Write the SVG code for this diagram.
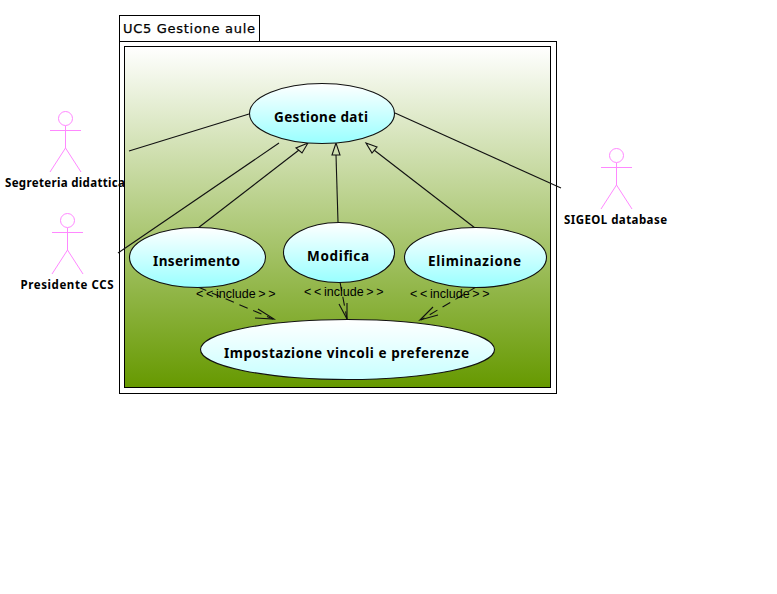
<svg xmlns="http://www.w3.org/2000/svg" width="777" height="594" viewBox="0 0 777 594">
<style>
text{font-family:"Noto Sans","DejaVu Sans",sans-serif;fill:#000}
.title{font-family:"DejaVu Sans",sans-serif;font-size:13px;stroke:#000;stroke-width:.25px}
.uc{stroke:#111;stroke-width:1.100;fill:url(#ucfill)}
.ucl{font-size:13.500px;font-weight:700}
.act{font-size:11.500px;font-weight:700}
.inc{font-size:12.500px;font-family:"Liberation Sans",sans-serif}
.stick{stroke:#ff88ff;stroke-width:1;fill:none}
.c{stroke:#111;stroke-width:1.100;fill:none}
.d{stroke:#111;stroke-width:1.100;fill:none;stroke-dasharray:9 6}
</style>
<defs>
<linearGradient id="bg" x1="0" y1="0" x2="0" y2="1"><stop offset="0" stop-color="#fff"/><stop offset="1" stop-color="#669900"/></linearGradient>
<linearGradient id="ucfill" x1="0" y1="0" x2="0" y2="1"><stop offset="0" stop-color="#fff"/><stop offset="1" stop-color="#99ffff"/></linearGradient>
<linearGradient id="ucfill2" x1="0" y1="0" x2="0" y2="1"><stop offset="0" stop-color="#fff"/><stop offset="1" stop-color="#c8ffff"/></linearGradient>
</defs>
<rect width="777" height="594" fill="#fff"/>
<g id="frame">
<rect x="119.500" y="15.500" width="140" height="26" fill="#fff" stroke="#000"/>
<rect x="119.500" y="41.500" width="437" height="352" fill="#fff" stroke="#000"/>
<rect x="124.500" y="46.500" width="426" height="341" fill="url(#bg)" stroke="#000"/>
<text class="title" x="123" y="33" textLength="132">UC5 Gestione aule</text>
</g>
<g id="connectors">
<path class="c" d="M249 114L129 151"/>
<path class="c" d="M279 143L118 253"/>
<path class="c" d="M395 113L561 188"/>
<path class="c" d="M198 228L299 150"/>
<path class="c" d="M338 222L336 155"/>
<path class="c" d="M475 228L374 150"/>
<path class="c" d="M308 143L296 148L302 153Z"/>
<path class="c" d="M336 143L332 155L340 155Z"/>
<path class="c" d="M366 143L377 147L372 153Z"/>
<path class="d" d="M198 287L273 319"/>
<path class="c" d="M258 309L274 319L255 318"/>
<path class="d" d="M340 282L347 319"/>
<path class="c" d="M339 304L347 319L347 303"/>
<path class="d" d="M476 287L421 320"/>
<path class="c" d="M433 307L420 320L438 315"/>
<text class="inc" x="196" y="298" dx="0 2.700 2.700 0 0 0 0 0 0 2.700 2.700">&lt;&lt;include&gt;&gt;</text>
<text class="inc" x="304" y="296" dx="0 2.700 2.700 0 0 0 0 0 0 2.700 2.700">&lt;&lt;include&gt;&gt;</text>
<text class="inc" x="410" y="298" dx="0 2.700 2.700 0 0 0 0 0 0 2.700 2.700">&lt;&lt;include&gt;&gt;</text>
</g>
<g id="uc-gestione"><ellipse class="uc" cx="322" cy="113.500" rx="72.500" ry="30"/><text class="ucl" x="274" y="122" textLength="94">Gestione dati</text></g>
<g id="uc-inserimento"><ellipse class="uc" cx="197.500" cy="257.500" rx="68" ry="30"/><text class="ucl" x="153" y="266" textLength="87">Inserimento</text></g>
<g id="uc-modifica"><ellipse class="uc" cx="339" cy="252.500" rx="55.500" ry="30"/><text class="ucl" x="307" y="261" textLength="62">Modifica</text></g>
<g id="uc-eliminazione"><ellipse class="uc" cx="475.500" cy="257.500" rx="71" ry="30"/><text class="ucl" x="428" y="266" textLength="93">Eliminazione</text></g>
<g id="uc-impostazione"><ellipse cx="347.500" cy="349.500" rx="147" ry="30" stroke="#111" stroke-width="1.100" fill="url(#ucfill2)"/><text class="ucl" x="224" y="358" textLength="245">Impostazione vincoli e preferenze</text></g>
<g id="actor-segreteria"><circle class="stick" cx="65.500" cy="118.500" r="7"/><path class="stick" d="M65.500 126V148M50 130.500H81M65.500 148L50 172M65.500 148L81 172"/><text class="act" x="5" y="187" textLength="120">Segreteria didattica</text></g>
<g id="actor-presidente"><circle class="stick" cx="67.500" cy="220.500" r="7"/><path class="stick" d="M67.500 228V250M52 232.500H83M67.500 250L52 274M67.500 250L83 274"/><text class="act" x="20.500" y="289" textLength="93">Presidente CCS</text></g>
<g id="actor-sigeol"><circle class="stick" cx="616.500" cy="155.500" r="7"/><path class="stick" d="M616.500 163V185M601 167.500H632M616.500 185L601 209M616.500 185L632 209"/><text class="act" x="564" y="224" textLength="103">SIGEOL database</text></g>
</svg>
